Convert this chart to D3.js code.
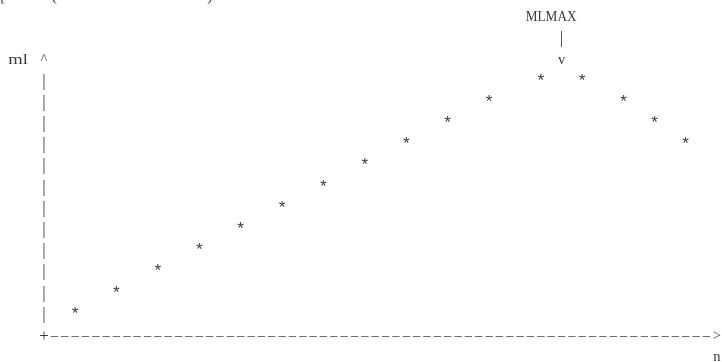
<!DOCTYPE html>
<html>
<head>
<meta charset="utf-8">
<script src="https://cdn.jsdelivr.net/npm/d3@7"></script>
<style>
  html, body { margin: 0; padding: 0; background: #fff; }
  svg { display: block; will-change: transform; }
  text { font-family: "Liberation Serif", "Times New Roman", serif; font-size: 14.5px; fill: #3a3a3a; }
  text.pt { font-family: "Liberation Mono", "Courier New", monospace; font-size: 17px; }
</style>
</head>
<body>
<script>
// Data (in character-grid units)
const nValues  = [3, 7, 11, 15, 19, 23, 27, 31, 35, 39, 43, 48, 52, 56, 59, 62];
const mlValues = [1, 2, 3, 4, 5, 6, 7, 8, 9, 10, 11, 12, 12, 11, 10, 9];
const xLabel = "n";
const yLabel = "ml";
const maxLabel = "MLMAX";
const maxIndex = 50;      // column where the MLMAX pointer sits
const axisLength = 65;    // columns of the horizontal axis
const yAxisTop = 12;      // rows of the vertical axis

const W = 722, H = 362;
const colW = 10.35, lineH = 21.2;

const x = d3.scaleLinear().domain([0, 1]).range([44, 44 + colW]);
const y = d3.scaleLinear().domain([0, 1]).range([340, 340 - lineH]);

const svg = d3.select("body").append("svg").attr("width", W).attr("height", H);
const g = svg.append("g").style("opacity", 0.995);

// one character centred in its grid cell
function ch(col, row, s, size, dy) {
  const t = g.append("text")
    .attr("x", x(col)).attr("y", y(row) + (dy || 0))
    .attr("text-anchor", "middle").text(s);
  if (size) t.style("font-size", size + "px");
  return t;
}
// a word spread over consecutive grid cells
function word(col, row, s, dy) {
  return g.append("text")
    .attr("x", x(col) - colW / 2 + 0.5).attr("y", y(row) + (dy || 0))
    .attr("textLength", s.length * colW - 1)
    .attr("lengthAdjust", "spacingAndGlyphs")
    .text(s);
}

// partial line cut off at top
ch(-4, 16, "[");
ch(1, 16, "(");
ch(16, 16, ")");

// MLMAX annotation
word(maxIndex - 3, 15, maxLabel, -1.5);
ch(maxIndex, 14, "|", 17);
ch(maxIndex, 13, "v");

// y axis label and arrow
word(-3, 13, yLabel);
ch(0, 13, "^");
// vertical axis
g.selectAll("text.vbar").data(d3.range(1, yAxisTop + 1)).enter().append("text")
  .attr("class", "vbar")
  .attr("x", x(0)).attr("y", d => y(d)).attr("text-anchor", "middle")
  .style("font-size", "17px").text("|");

// horizontal axis
ch(0, 0, "+", 17, 1);
g.selectAll("text.dash").data(d3.range(1, axisLength)).enter().append("text")
  .attr("class", "dash")
  .attr("x", d => x(d)).attr("y", y(0)).attr("text-anchor", "middle").text("\u2013");
ch(axisLength, 0, ">");
ch(axisLength, -1, xLabel);

// data points
g.selectAll("text.pt").data(nValues.map((n, i) => ({ n, ml: mlValues[i] }))).enter().append("text")
  .attr("class", "pt")
  .attr("x", d => x(d.n)).attr("y", d => y(d.ml)).attr("text-anchor", "middle").text("*");
</script>
</body>
</html>
